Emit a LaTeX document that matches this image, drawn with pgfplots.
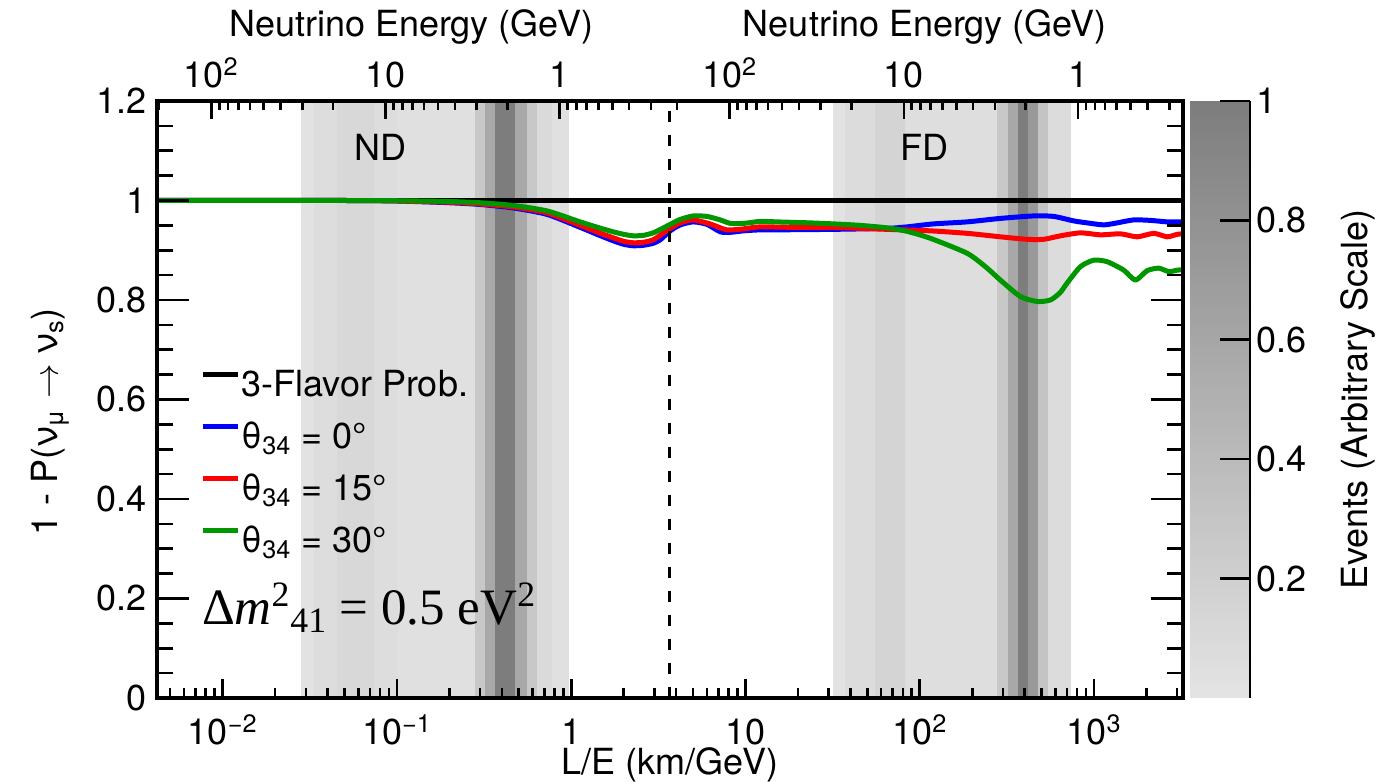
\documentclass[border=0pt]{standalone}
\usepackage{fontspec}
\setmainfont{TeX Gyre Heros}
\newfontfamily\timesfont{Liberation Serif}
\usepackage{pgfplots}
\pgfplotsset{compat=1.18}
\usepgfplotslibrary{patchplots}
\definecolor{rgreen}{RGB}{0,150,0}
\newcommand{\axfont}{\fontsize{18}{21}\selectfont}
\newcommand{\legfont}{\fontsize{18}{21}\selectfont}
\pgfplotsset{colormap={events}{rgb255(0cm)=(228,228,228) rgb255(1cm)=(125,125,125)}}

\begin{document}
\begin{tikzpicture}
\begin{axis}[
  name=main,
  scale only axis, width=513pt, height=298.5pt,
  xmode=log, xmin=0.0042, xmax=3240, ymin=0, ymax=1.2,
  axis on top, clip mode=individual,
  colormap name=events, point meta min=0, point meta max=1,
  tick align=inside,
  xtick pos=left, ytick pos=both, yticklabel pos=left,
  xtick={0.01,0.1,1,10,100,1000},
  xticklabels={10\textsuperscript{−2},10\textsuperscript{−1},1,10,10\textsuperscript{2},10\textsuperscript{3}},
  minor xtick={0.005,0.006,0.007,0.008,0.009,0.02,0.03,0.04,0.05,0.06,0.07,0.08,0.09,0.2,0.3,0.4,0.5,0.6,0.7,0.8,0.9,2,3,4,5,6,7,8,9,20,30,40,50,60,70,80,90,200,300,400,500,600,700,800,900,2000,3000},
  ytick={0,0.2,0.4,0.6,0.8,1,1.2},
  minor ytick={0.05,0.1,0.15,0.25,0.3,0.35,0.45,0.5,0.55,0.65,0.7,0.75,0.85,0.9,0.95,1.05,1.1,1.15},
  xtick style={/pgfplots/major tick length=9.5pt,/pgfplots/minor tick length=4.8pt},
  ytick style={/pgfplots/major tick length=16pt,/pgfplots/minor tick length=8pt},
  axis line style={line width=1.6pt},
  every tick/.append style={line width=1.3pt, black},
  tick label style={font=\axfont},
  /pgf/number format/assume math mode=true,
  xticklabel style={anchor=base, yshift=-23.5pt, text depth=0pt, inner sep=0pt},
  yticklabel style={anchor=east, inner sep=0pt, xshift=-5pt},
  legend style={at={(0.0419,0.5494)}, anchor=north west, draw=none, fill=none,
    inner sep=0pt, row sep=9pt, column sep=0.5pt, font=\legfont,
    nodes={inner sep=0pt, text height=13pt, text depth=4pt}},
  legend cell align=left,
  legend image code/.code={\draw[#1, line width=2.5pt] (0pt,6.3pt) -- (17.5pt,6.3pt);},
]
% event bands (ND and FD)
\addplot[patch, patch type=rectangle, shader=faceted, faceted color=mapped color, line width=0.3pt, point meta=explicit, forget plot]
table[meta=c] {
x y c
0.02814 0 0.02
0.03347 0 0.02
0.03347 1.2 0.02
0.02814 1.2 0.02
0.03347 0 0.07
0.04536 0 0.07
0.04536 1.2 0.07
0.03347 1.2 0.07
0.04536 0 0.12
0.07397 0 0.12
0.07397 1.2 0.12
0.04536 1.2 0.12
0.07397 0 0.07
0.1016 0 0.07
0.1016 1.2 0.07
0.07397 1.2 0.07
0.1016 0 0.04
0.2811 0 0.04
0.2811 1.2 0.04
0.1016 1.2 0.04
0.2811 0 0.27
0.3209 0 0.27
0.3209 1.2 0.27
0.2811 1.2 0.27
0.3209 0 0.58
0.3662 0 0.58
0.3662 1.2 0.58
0.3209 1.2 0.58
0.3662 0 0.99
0.4771 0 0.99
0.4771 1.2 0.99
0.3662 1.2 0.99
0.4771 0 0.58
0.5590 0 0.58
0.5590 1.2 0.58
0.4771 1.2 0.58
0.5590 0 0.27
0.6378 0 0.27
0.6378 1.2 0.27
0.5590 1.2 0.27
0.6378 0 0.10
0.7780 0 0.10
0.7780 1.2 0.10
0.6378 1.2 0.10
0.7780 0 0.04
0.9611 0 0.04
0.9611 1.2 0.04
0.7780 1.2 0.04
32.04 0 0.02
37.41 0 0.02
37.41 1.2 0.02
32.04 1.2 0.02
37.41 0 0.08
55.62 0 0.08
55.62 1.2 0.08
37.41 1.2 0.08
55.62 0 0.15
82.68 0 0.15
82.68 1.2 0.15
55.62 1.2 0.15
82.68 0 0.06
278.9 0 0.06
278.9 1.2 0.06
82.68 1.2 0.06
278.9 0 0.27
322.6 0 0.27
322.6 1.2 0.27
278.9 1.2 0.27
322.6 0 0.58
368.1 0 0.58
368.1 1.2 0.58
322.6 1.2 0.58
368.1 0 1.0
420.2 0 1.0
420.2 1.2 1.0
368.1 1.2 1.0
420.2 0 0.72
479.7 0 0.72
479.7 1.2 0.72
420.2 1.2 0.72
479.7 0 0.31
547.3 0 0.31
547.3 1.2 0.31
479.7 1.2 0.31
547.3 0 0.08
731.9 0 0.08
731.9 1.2 0.08
547.3 1.2 0.08
};
% 3-flavor
\addplot[black, line width=2.2pt] coordinates {(0.0042,1) (3240,1)};
\addlegendentry{3-Flavor Prob.}
% theta34 = 0
\addplot[blue, line width=2.5pt, smooth, tension=0.4, line join=round] coordinates {
(0.0042,1.0) (0.05,1.0) (0.1,0.999) (0.2,0.9955) (0.3,0.992) (0.465,0.985) (0.728,0.972)
(1.126,0.946) (1.45,0.930) (1.742,0.919) (2.0,0.912) (2.27,0.909) (2.6,0.910) (2.956,0.914)
(3.243,0.921) (3.70,0.939) (4.224,0.951) (5.016,0.957) (6.012,0.952) (7.168,0.937) (8.179,0.936)
(9.752,0.939) (12.16,0.941) (15.16,0.941) (32.04,0.942) (64.93,0.944) (84.56,0.947) (120.2,0.953)
(186.8,0.957) (290.2,0.964) (450.7,0.969) (587.1,0.968) (764.6,0.959) (912.8,0.955) (1137,0.951)
(1357,0.955) (1690,0.961) (2108,0.960) (2628,0.957) (2999,0.957) (3240,0.957)};
\addlegendentry{θ\textsubscript{34} = 0°}
% theta34 = 15
\addplot[red, line width=2.5pt, smooth, tension=0.4, line join=round] coordinates {
(0.0042,1.0) (0.05,1.0) (0.1,0.999) (0.2,0.9965) (0.3,0.993) (0.465,0.987) (0.728,0.975)
(1.126,0.950) (1.45,0.935) (1.742,0.925) (2.0,0.918) (2.27,0.915) (2.6,0.916) (2.956,0.921)
(3.3,0.932) (3.70,0.944) (4.224,0.955) (5.016,0.961) (6.26,0.953) (7.8,0.941) (9.752,0.943)
(12.16,0.947) (18.89,0.946) (32.04,0.946) (45.6,0.944) (64.93,0.942) (115.1,0.939) (186.8,0.934)
(290.2,0.927) (413,0.922) (514.4,0.922) (641.3,0.929) (835.6,0.935) (1088,0.931) (1418,0.933)
(1768,0.927) (2201,0.934) (2628,0.927) (2999,0.932) (3240,0.933)};
\addlegendentry{θ\textsubscript{34} = 15°}
% theta34 = 30
\addplot[rgreen, line width=2.5pt, smooth, tension=0.4, line join=round] coordinates {
(0.0042,1.0) (0.05,1.0) (0.1,0.9995) (0.2,0.998) (0.3,0.9955) (0.465,0.990) (0.728,0.979)
(1.126,0.957) (1.45,0.945) (1.742,0.937) (2.0,0.932) (2.27,0.929) (2.6,0.930) (2.956,0.935)
(3.3,0.943) (3.70,0.952) (4.224,0.962) (5.016,0.969) (6.012,0.968) (7.168,0.961) (8.179,0.954)
(9.752,0.954) (12.16,0.958) (15.16,0.957) (18.89,0.956) (23.55,0.955) (32.04,0.953) (45.6,0.950)
(64.93,0.945) (84.56,0.938) (115.1,0.924) (186.8,0.894) (240,0.866) (290.2,0.840) (378,0.807)
(471.5,0.797) (562,0.800) (640,0.815) (700.7,0.834) (835.6,0.867) (996.1,0.880) (1189,0.877)
(1481,0.860) (1729,0.840) (2017,0.859) (2352,0.864) (2685,0.857) (2999,0.860) (3240,0.861)};
\addlegendentry{θ\textsubscript{34} = 30°}
% ND / FD separator
\addplot[black, line width=1.5pt, dash pattern=on 5.5pt off 6.5pt, forget plot] coordinates {(3.65,0) (3.65,1.2)};

\node[font=\axfont] at (axis cs:0.0801,1.1075) {ND};
\node[font=\axfont] at (axis cs:106.3,1.1075) {FD};
\node[anchor=base west, font=\timesfont\fontsize{25.5}{29}\selectfont] at (rel axis cs:0.037,0.1223)
  {Δ\textit{m}\textsuperscript{2}\textsubscript{41} = 0.5 eV\textsuperscript{2}};

\coordinate (SW) at (rel axis cs:0,0);
\coordinate (NE) at (rel axis cs:1,1);
\coordinate (t1) at (rel axis cs:0.2476,1);
\coordinate (t2) at (rel axis cs:0.7485,1);
\coordinate (xl) at (rel axis cs:0.5,0);
\coordinate (yl) at (rel axis cs:0,0.4623);
\coordinate (zl) at (rel axis cs:1,0.5);
\end{axis}

% top energy axis
\begin{axis}[
  scale only axis, width=513pt, height=298.5pt,
  xmode=log, xmin=0.0042, xmax=3240, ymin=0, ymax=1.2,
  axis x line*=top, axis y line=none,
  tick align=inside,
  xtick={0.0086,0.086,0.86,8.1,81,810},
  xticklabels={10\textsuperscript{2},10,1,10\textsuperscript{2},10,1},
  minor xtick={0.0043,0.009556,0.01075,0.012286,0.014333,0.0172,0.0215,0.028667,0.043,0.095556,0.1075,0.122857,0.143333,0.172,0.215,0.286667,0.43,0.955556,1.075,1.228571,1.433333,1.72,2.15,2.866667,4.05,9,10.125,11.5714,13.5,16.2,20.25,27,40.5,90,101.25,115.714,135,162,202.5,270,405,900,1012.5,1157.14,1350,1620,2025,2700},
  major tick length=9pt, minor tick length=4.5pt,
  axis line style={line width=1.6pt},
  every tick/.append style={line width=1.3pt, black},
  xticklabel style={font=\axfont, anchor=base, yshift=6.5pt},
  /pgf/number format/assume math mode=true,
]
\end{axis}

% colour scale (events)
\begin{axis}[
  at={(NE)}, anchor=north west, xshift=3.5pt,
  scale only axis, width=30pt, height=298.5pt,
  xmin=0, xmax=1, ymin=0, ymax=1,
  axis line style={draw=none},
  xtick=\empty,
  ytick={0.2,0.4,0.6,0.8,1}, ytick pos=right, yticklabel pos=right,
  tick align=inside, major tick length=15pt,
  yticklabel style={font=\axfont, anchor=west, inner sep=0pt, xshift=3pt},
  /pgf/number format/assume math mode=true,
  every tick/.append style={line width=1.3pt, black},
  colormap name=events, point meta min=0, point meta max=1,
  axis on top,
  after end axis/.code={\draw[line width=1.3pt, black] (rel axis cs:1,0) -- (rel axis cs:1,1);},
]
\addplot[patch, shader=interp, point meta=explicit] table[meta=c] {
x y c
0 0 0
1 0 0
1 1 1
0 0 0
1 1 1
0 1 1
};
\end{axis}

\node[font=\axfont, anchor=base] at ([yshift=32pt]t1) {Neutrino Energy (GeV)};
\node[font=\axfont, anchor=base] at ([yshift=32pt]t2) {Neutrino Energy (GeV)};
\node[font=\axfont, anchor=base, inner sep=0pt] at ([yshift=-38.5pt]xl) {L/E (km/GeV)};
\node[font=\axfont, anchor=base, rotate=90] at ([xshift=-49.5pt]yl) {1 - P(ν\textsubscript{μ} $\rightarrow$ ν\textsubscript{s})};
\node[font=\axfont, anchor=base, rotate=90] at ([xshift=92pt]zl) {Events (Arbitrary Scale)};

\pgfresetboundingbox
\path[use as bounding box] ([xshift=-78.5pt,yshift=-42pt]SW) rectangle ([xshift=97.5pt,yshift=50.5pt]NE);
\end{tikzpicture}
\end{document}
